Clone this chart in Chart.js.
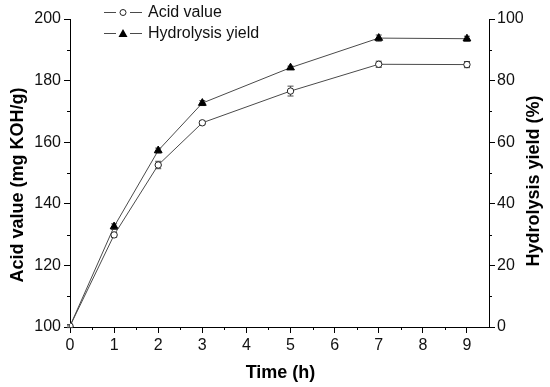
<!DOCTYPE html>
<html>
<head>
<meta charset="utf-8">
<script src="https://cdn.jsdelivr.net/npm/chart.js@4.4.1/dist/chart.umd.min.js"></script>
<style>
  html, body { margin: 0; padding: 0; background: #fff; }
  #wrap { width: 550px; height: 387px; position: relative; }
</style>
</head>
<body>
<div id="wrap"><canvas id="line-chart"></canvas></div>
<script>
// data
var timeH = [0, 1, 2, 3, 5, 7, 9];
var acidValue = [100.3, 129.9, 152.6, 166.3, 176.6, 185.3, 185.2];
var acidErr = [0.5, 0.8, 1.2, 0.6, 1.6, 1.0, 1.0];
var hydrolysisYield = [0.3, 32.6, 57.3, 72.7, 84.2, 93.8, 93.6];
var yieldErr = [0.3, 0.9, 0.8, 0.8, 0.5, 1.0, 0.8];

var fontFam = "'Liberation Sans', Arial, sans-serif";
var lineCol = '#4a4a4a';

function pts(xs, ys) {
  return xs.map(function (x, i) { return { x: x, y: ys[i] }; });
}

// error bars, minor ticks, rotated titles and the in-plot legend
var extras = {
  id: 'extras',
  beforeDatasetsDraw: function (chart) {
    var ctx = chart.ctx;
    var sets = [[0, acidErr, 'y'], [1, yieldErr, 'y1']];
    ctx.save();
    ctx.strokeStyle = lineCol;
    ctx.lineWidth = 1;
    sets.forEach(function (s) {
      var ds = chart.data.datasets[s[0]];
      var ys = chart.scales[s[2]];
      ds.data.forEach(function (p, i) {
        var e = s[1][i];
        var px = chart.scales.x.getPixelForValue(p.x);
        var top = ys.getPixelForValue(p.y + e);
        var bot = ys.getPixelForValue(p.y - e);
        ctx.beginPath();
        ctx.moveTo(px, top); ctx.lineTo(px, bot);
        ctx.moveTo(px - 3, top); ctx.lineTo(px + 3, top);
        ctx.moveTo(px - 3, bot); ctx.lineTo(px + 3, bot);
        ctx.stroke();
      });
    });
    ctx.restore();
  },
  afterDraw: function (chart) {
    var ctx = chart.ctx;
    var a = chart.chartArea;
    var x = chart.scales.x, y = chart.scales.y, y1 = chart.scales.y1;
    ctx.save();
    ctx.strokeStyle = '#000';
    ctx.lineWidth = 1;
    ctx.beginPath();
    for (var v = 0.5; v <= 9; v += 1) {
      var px = Math.round(x.getPixelForValue(v)) + 0.5;
      ctx.moveTo(px, a.bottom); ctx.lineTo(px, a.bottom + 3);
    }
    for (var v2 = 110; v2 < 200; v2 += 20) {
      var py = Math.round(y.getPixelForValue(v2)) + 0.5;
      ctx.moveTo(a.left, py); ctx.lineTo(a.left - 3, py);
    }
    for (var v3 = 10; v3 < 100; v3 += 20) {
      var py1 = Math.round(y1.getPixelForValue(v3)) + 0.5;
      ctx.moveTo(a.right, py1); ctx.lineTo(a.right + 3, py1);
    }
    ctx.stroke();

    // axis titles
    ctx.fillStyle = '#000';
    ctx.font = 'bold 18px ' + fontFam;
    ctx.textAlign = 'center';
    ctx.textBaseline = 'middle';
    ctx.fillText('Time (h)', (a.left + a.right) / 2 + 1, 373);
    ctx.save();
    ctx.translate(18, 185);
    ctx.rotate(-Math.PI / 2);
    ctx.fillText('Acid value (mg KOH/g)', 0, 0);
    ctx.restore();
    ctx.save();
    ctx.translate(534, 181);
    ctx.rotate(-Math.PI / 2);
    ctx.fillText('Hydrolysis yield (%)', 0, 0);
    ctx.restore();

    // legend
    var rows = [['Acid value', 12, 'circle'], ['Hydrolysis yield', 33, 'triangle']];
    ctx.font = '16px ' + fontFam;
    ctx.textAlign = 'left';
    rows.forEach(function (r) {
      var ly = r[1] + 0.5;
      ctx.strokeStyle = lineCol;
      ctx.beginPath();
      ctx.moveTo(104, ly); ctx.lineTo(116, ly);
      ctx.moveTo(130, ly); ctx.lineTo(142, ly);
      ctx.stroke();
      if (r[2] === 'circle') {
        ctx.beginPath();
        ctx.arc(123, ly, 3, 0, Math.PI * 2);
        ctx.fillStyle = '#fff'; ctx.fill();
        ctx.strokeStyle = '#222'; ctx.stroke();
      } else {
        ctx.beginPath();
        ctx.moveTo(123, ly - 4.5); ctx.lineTo(127.5, ly + 3.5); ctx.lineTo(118.5, ly + 3.5);
        ctx.closePath();
        ctx.fillStyle = '#000'; ctx.fill();
      }
      ctx.fillStyle = '#111';
      ctx.fillText(r[0], 148, r[1] + 1);
    });
    ctx.restore();
  }
};

var tickFont = { family: fontFam, size: 16 };

var lineChart = new Chart(document.getElementById('line-chart').getContext('2d'), {
  type: 'line',
  data: {
    datasets: [{
      label: 'Acid value',
      data: pts(timeH, acidValue),
      yAxisID: 'y',
      borderColor: lineCol,
      borderWidth: 1,
      pointStyle: 'circle',
      pointRadius: 3.2,
      pointBackgroundColor: '#fff',
      pointBorderColor: '#222',
      pointBorderWidth: 1,
      fill: false,
      tension: 0
    }, {
      label: 'Hydrolysis yield',
      data: pts(timeH, hydrolysisYield),
      yAxisID: 'y1',
      borderColor: lineCol,
      borderWidth: 1,
      pointStyle: 'triangle',
      pointRadius: 4.5,
      pointBackgroundColor: '#000',
      pointBorderColor: '#000',
      pointBorderWidth: 1,
      fill: false,
      tension: 0
    }]
  },
  options: {
    responsive: true,
    maintainAspectRatio: false,
    animation: false,
    layout: { padding: { top: 19, left: 0, right: 0, bottom: 0 } },
    plugins: { legend: { display: false }, tooltip: { enabled: false } },
    scales: {
      x: {
        type: 'linear',
        min: 0, max: 9.5,
        afterFit: function (s) { s.height = 60; },
        ticks: { stepSize: 1, includeBounds: false, color: '#111', font: tickFont, padding: 3, maxRotation: 0 },
        grid: { drawOnChartArea: false, drawTicks: true, tickLength: 6, color: '#000' },
        border: { color: '#000', width: 1 }
      },
      y: {
        position: 'left',
        min: 100, max: 200,
        afterFit: function (s) { s.width = 70; },
        ticks: { stepSize: 20, color: '#111', font: tickFont, padding: 3 },
        grid: { drawOnChartArea: false, drawTicks: true, tickLength: 6, color: '#000' },
        border: { color: '#000', width: 1 }
      },
      y1: {
        position: 'right',
        min: 0, max: 100,
        afterFit: function (s) { s.width = 61; },
        ticks: { stepSize: 20, color: '#111', font: tickFont, padding: 2 },
        grid: { drawOnChartArea: false, drawTicks: true, tickLength: 6, color: '#000' },
        border: { color: '#000', width: 1 }
      }
    }
  },
  plugins: [extras]
});
</script>
</body>
</html>
